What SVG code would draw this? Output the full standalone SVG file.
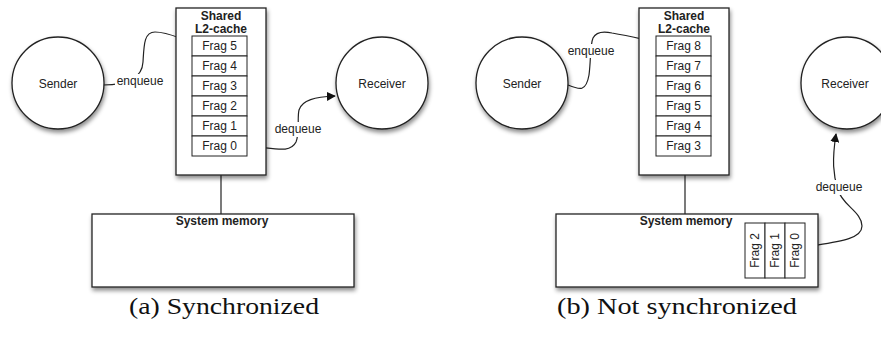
<svg xmlns="http://www.w3.org/2000/svg" width="881" height="356" viewBox="0 0 881 356">
  <style>
    .shape { fill: #fff; stroke: #222; stroke-width: 1.3; filter: url(#shadow); }
    .cell { fill: #fff; stroke: #222; stroke-width: 1; }
    .t { font-family: "Liberation Sans", Arial, sans-serif; font-size: 12px; fill: #222; text-anchor: middle; }
    .b { font-weight: bold; }
    .conn { fill: none; stroke: #222; stroke-width: 1.2; }
    .bg { fill: #fff; }
    .cap { font-family: "Liberation Serif", "Times New Roman", serif; font-size: 24px; fill: #111; }
  </style>
  <defs>
    <filter id="shadow" x="-20%" y="-20%" width="140%" height="150%">
      <feDropShadow dx="1" dy="3" stdDeviation="2" flood-color="#000" flood-opacity="0.45"/>
    </filter>
    <marker id="arrow" viewBox="0 0 10 10" refX="9" refY="5" markerWidth="9" markerHeight="9" markerUnits="userSpaceOnUse" orient="auto">
      <path d="M0,0 L10,5 L0,10 z" fill="#111"/>
    </marker>
  </defs>

  <!-- connectors -->
  <g id="connectors">
    <!-- (a) -->
    <path class="conn" d="M103,85 C125,85 142,80 143,62 C144,45 144,32 155,32 C168,32 178,38 191,42" marker-end="url(#arrow)"/>
    <path class="conn" d="M247,146 C275,148 290,154 296,142 C300,132 297,118 299,110 C302,100 315,97 335,96" marker-end="url(#arrow)"/>
    <line class="conn" x1="221" y1="175" x2="221" y2="214"/>
    <!-- (b) -->
    <path class="conn" d="M568,85 C580,90 586,92 589,75 C591,60 590,45 593,38 C596,32 603,31 612,33 C630,36 645,40 655,42" marker-end="url(#arrow)"/>
    <path class="conn" d="M805,247 C835,242 862,240 862,226 C862,212 842,205 838,190 C833,175 832,160 836,134" marker-end="url(#arrow)"/>
    <line class="conn" x1="685" y1="175" x2="685" y2="214"/>
    <!-- connector labels -->
    <rect class="bg" x="115" y="74" width="50" height="14"/>
    <text class="t" x="140" y="85">enqueue</text>
    <rect class="bg" x="272" y="122" width="52" height="15"/>
    <text class="t" x="298" y="133">dequeue</text>
    <rect class="bg" x="566" y="44" width="50" height="14"/>
    <text class="t" x="591" y="55">enqueue</text>
    <rect class="bg" x="813" y="180" width="52" height="15"/>
    <text class="t" x="839" y="191">dequeue</text>
  </g>

  <!-- (a) Synchronized -->
  <g id="a-sender">
    <circle class="shape" cx="58" cy="83" r="46"/>
    <text class="t" x="58" y="88">Sender</text>
  </g>
  <g id="a-receiver">
    <circle class="shape" cx="382" cy="83" r="46"/>
    <text class="t" x="382" y="88">Receiver</text>
  </g>
  <g id="a-l2cache">
    <rect class="shape" x="176" y="8" width="90" height="167"/>
    <text class="t b" x="221" y="20">Shared</text>
    <text class="t b" x="221" y="33">L2-cache</text>
    <rect class="cell" x="192" y="36" width="55" height="20"/>
    <rect class="cell" x="192" y="56" width="55" height="20"/>
    <rect class="cell" x="192" y="76" width="55" height="20"/>
    <rect class="cell" x="192" y="96" width="55" height="20"/>
    <rect class="cell" x="192" y="116" width="55" height="20"/>
    <rect class="cell" x="192" y="136" width="55" height="20"/>
    <text class="t" x="219.5" y="50">Frag 5</text>
    <text class="t" x="219.5" y="70">Frag 4</text>
    <text class="t" x="219.5" y="90">Frag 3</text>
    <text class="t" x="219.5" y="110">Frag 2</text>
    <text class="t" x="219.5" y="130">Frag 1</text>
    <text class="t" x="219.5" y="150">Frag 0</text>
  </g>
  <g id="a-memory">
    <rect class="shape" x="92" y="214" width="262" height="73"/>
    <text class="t b" x="222" y="225">System memory</text>
  </g>
  <text class="cap" x="129" y="314" textLength="190" lengthAdjust="spacingAndGlyphs">(a) Synchronized</text>

  <!-- (b) Not synchronized -->
  <g id="b-sender">
    <circle class="shape" cx="522" cy="83" r="46"/>
    <text class="t" x="522" y="88">Sender</text>
  </g>
  <g id="b-receiver">
    <circle class="shape" cx="847" cy="83" r="46"/>
    <text class="t" x="845" y="88">Receiver</text>
  </g>
  <g id="b-l2cache">
    <rect class="shape" x="639" y="8" width="90" height="167"/>
    <text class="t b" x="684" y="20">Shared</text>
    <text class="t b" x="684" y="33">L2-cache</text>
    <rect class="cell" x="656" y="36" width="55" height="20"/>
    <rect class="cell" x="656" y="56" width="55" height="20"/>
    <rect class="cell" x="656" y="76" width="55" height="20"/>
    <rect class="cell" x="656" y="96" width="55" height="20"/>
    <rect class="cell" x="656" y="116" width="55" height="20"/>
    <rect class="cell" x="656" y="136" width="55" height="20"/>
    <text class="t" x="683.5" y="50">Frag 8</text>
    <text class="t" x="683.5" y="70">Frag 7</text>
    <text class="t" x="683.5" y="90">Frag 6</text>
    <text class="t" x="683.5" y="110">Frag 5</text>
    <text class="t" x="683.5" y="130">Frag 4</text>
    <text class="t" x="683.5" y="150">Frag 3</text>
  </g>
  <g id="b-memory">
    <rect class="shape" x="556" y="214" width="262" height="73"/>
    <text class="t b" x="686" y="225">System memory</text>
    <rect class="cell" x="745" y="223" width="20" height="55"/>
    <rect class="cell" x="765" y="223" width="20" height="55"/>
    <rect class="cell" x="785" y="223" width="20" height="55"/>
    <text class="t" transform="translate(759,250.5) rotate(-90)">Frag 2</text>
    <text class="t" transform="translate(779,250.5) rotate(-90)">Frag 1</text>
    <text class="t" transform="translate(799,250.5) rotate(-90)">Frag 0</text>
  </g>
  <text class="cap" x="557" y="314" textLength="240" lengthAdjust="spacingAndGlyphs">(b) Not synchronized</text>
</svg>
